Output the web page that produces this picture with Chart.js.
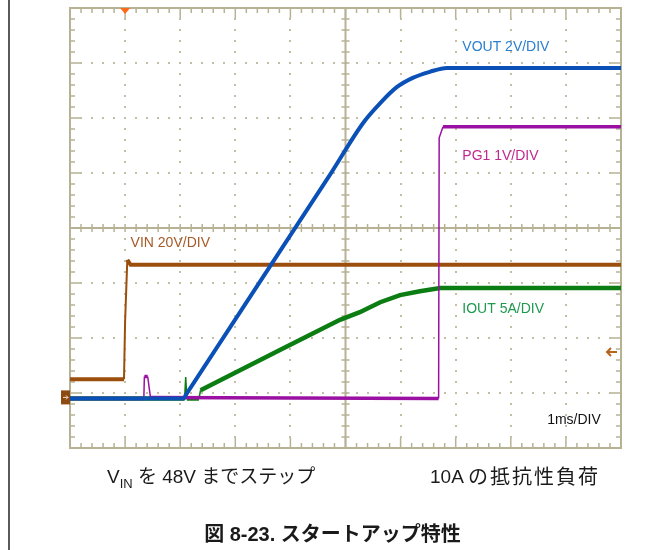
<!DOCTYPE html>
<html>
<head>
<meta charset="utf-8">
<title>スタートアップ特性</title>
<script src="https://cdn.jsdelivr.net/npm/chart.js@4.4.1/dist/chart.umd.min.js"></script>
<style>
  body { margin: 0; background: #fff; }
  #wrap { width: 665px; height: 550px; }
</style>
</head>
<body>
<div id="wrap"><canvas id="scope" width="665" height="550"></canvas></div>
<script>
// x = time in divisions (1ms/DIV), y = screen divisions from the bottom edge
const xDivs = 10;
const yDivs = 8;

const vinT = [0, 0.98, 1.0, 1.04, 1.1, 10];
const vinV = [1.25, 1.25, 2.3, 3.42, 3.33, 3.33];

const voutT = [0, 2.06, 2.1, 4.72, 5.32, 5.63, 5.93, 6.22, 6.53, 6.84, 10];
const voutV = [0.9, 0.9, 0.96, 4.97, 5.91, 6.27, 6.56, 6.73, 6.84, 6.91, 6.91];

const pgT = [0, 1.34, 1.35, 1.41, 1.46, 6.69, 6.7, 6.77, 10];
const pgV = [0.9, 0.9, 1.3, 1.3, 0.92, 0.9, 5.64, 5.84, 5.84];

const ioutT = [0, 2.08, 2.1, 2.12, 2.34, 2.37, 3.81, 4.9, 5.26, 5.63, 5.99, 6.35, 6.72, 10];
const ioutV = [0.9, 0.9, 1.29, 0.9, 0.9, 1.05, 1.78, 2.33, 2.47, 2.65, 2.78, 2.85, 2.91, 2.91];

const traceLabels = [
  { text: 'VOUT 2V/DIV', t: 7.12, v: 7.3, color: '#2a7fd0' },
  { text: 'PG1 1V/DIV', t: 7.12, v: 5.32, color: '#c0288f' },
  { text: 'VIN 20V/DIV', t: 1.1, v: 3.75, color: '#a65a28' },
  { text: 'IOUT 5A/DIV', t: 7.12, v: 2.54, color: '#1e9a50' },
  { text: '1ms/DIV', t: 8.66, v: 0.53, color: '#111111' }
];

const gridColor = '#b7b294';

function pts(t, v) {
  return t.map(function(x, i) { return { x: x, y: v[i] }; });
}

// steep edges of the traces are drawn thinner, like on the scope
function edgeWidth(thick, thin) {
  return function(ctx) {
    const dx = Math.abs(ctx.p1.x - ctx.p0.x);
    const dy = Math.abs(ctx.p1.y - ctx.p0.y);
    return (dx < 4 && dy > 8) ? thin : thick;
  };
}

const scopeGrid = {
  id: 'scopeGrid',
  beforeDatasetsDraw(chart) {
    const ctx = chart.ctx;
    const a = chart.chartArea;
    const x = chart.scales.x, y = chart.scales.y;
    ctx.save();
    ctx.fillStyle = '#5a5a5a';
    ctx.fillRect(8, 0, 2, chart.height);

    // dotted division lines
    ctx.fillStyle = '#c3bfa5';
    for (let i = 1; i < xDivs; i++) {
      if (i === xDivs / 2) continue;
      const px = Math.round(x.getPixelForValue(i));
      for (let k = 1; k < yDivs * 5; k++) {
        const py = Math.round(y.getPixelForValue(k / 5));
        ctx.fillRect(px - 1, py - 1, 2, 2);
      }
    }
    for (let j = 1; j < yDivs; j++) {
      if (j === yDivs / 2) continue;
      const py = Math.round(y.getPixelForValue(j));
      for (let k = 1; k < xDivs * 5; k++) {
        const px = Math.round(x.getPixelForValue(k / 5));
        ctx.fillRect(px - 1, py - 1, 2, 2);
      }
    }

    ctx.strokeStyle = gridColor;
    const xc = x.getPixelForValue(xDivs / 2);
    const yc = y.getPixelForValue(yDivs / 2);

    // ticks on border and centre cross
    ctx.lineWidth = 1.5;
    ctx.beginPath();
    for (let k = 1; k < xDivs * 5; k++) {
      const px = x.getPixelForValue(k / 5);
      const len = k % 5 === 0 ? 10 : 5;
      ctx.moveTo(px, a.top); ctx.lineTo(px, a.top + len);
      ctx.moveTo(px, a.bottom); ctx.lineTo(px, a.bottom - len);
      ctx.moveTo(px, yc - 4); ctx.lineTo(px, yc + 4);
    }
    for (let k = 1; k < yDivs * 5; k++) {
      const py = y.getPixelForValue(k / 5);
      const len = k % 5 === 0 ? 10 : 5;
      ctx.moveTo(a.left, py); ctx.lineTo(a.left + len, py);
      ctx.moveTo(a.right, py); ctx.lineTo(a.right - len, py);
      ctx.moveTo(xc - 4, py); ctx.lineTo(xc + 4, py);
    }
    ctx.stroke();

    ctx.lineWidth = 2;
    ctx.strokeRect(a.left, a.top, a.right - a.left, a.bottom - a.top);
    ctx.beginPath();
    ctx.moveTo(xc, a.top); ctx.lineTo(xc, a.bottom);
    ctx.moveTo(a.left, yc); ctx.lineTo(a.right, yc);
    ctx.stroke();
    ctx.restore();
  },
  afterDatasetsDraw(chart) {
    const ctx = chart.ctx;
    const a = chart.chartArea;
    const x = chart.scales.x, y = chart.scales.y;
    ctx.save();

    // trigger position marker
    const tx = x.getPixelForValue(1.0);
    ctx.fillStyle = '#ff6a1a';
    ctx.beginPath();
    ctx.moveTo(tx - 5, a.top); ctx.lineTo(tx + 5, a.top); ctx.lineTo(tx, a.top + 6);
    ctx.closePath();
    ctx.fill();

    // ground marker
    const gy = y.getPixelForValue(0.92);
    ctx.fillStyle = '#8a4a12';
    ctx.fillRect(a.left - 9, gy - 7, 9, 14);
    ctx.strokeStyle = '#f2dcc0';
    ctx.lineWidth = 1;
    ctx.beginPath();
    ctx.moveTo(a.left - 7, gy); ctx.lineTo(a.left - 2, gy);
    ctx.moveTo(a.left - 4, gy - 2); ctx.lineTo(a.left - 2, gy); ctx.lineTo(a.left - 4, gy + 2);
    ctx.stroke();

    // VIN trigger level arrow
    const ay = y.getPixelForValue(1.745);
    ctx.strokeStyle = '#b5651d';
    ctx.lineWidth = 2;
    ctx.beginPath();
    ctx.moveTo(a.right - 4, ay); ctx.lineTo(a.right - 14, ay);
    ctx.moveTo(a.right - 10, ay - 4); ctx.lineTo(a.right - 14, ay); ctx.lineTo(a.right - 10, ay + 4);
    ctx.stroke();

    // trace labels
    ctx.font = '14px "Liberation Sans", Arial, sans-serif';
    ctx.textBaseline = 'middle';
    traceLabels.forEach(function(l) {
      ctx.fillStyle = l.color;
      ctx.fillText(l.text, x.getPixelForValue(l.t), y.getPixelForValue(l.v) + 1);
    });

    // notes under the screen
    ctx.fillStyle = '#1a1a1a';
    ctx.textBaseline = 'alphabetic';
    const jp = '19px "Liberation Sans", "Noto Sans CJK JP", sans-serif';
    let cx = 107;
    ctx.font = jp;
    ctx.fillText('V', cx, 483);
    cx += ctx.measureText('V').width;
    ctx.font = '13px "Liberation Sans", sans-serif';
    ctx.fillText('IN', cx, 488);
    cx += ctx.measureText('IN').width;
    ctx.font = jp;
    ctx.fillText(' を 48V までステップ', cx, 483);
    ctx.fillText('10A', 430, 483);
    ctx.font = '20px "Noto Sans CJK JP", sans-serif';
    ctx.letterSpacing = '2px';
    ctx.fillText('の抵抗性負荷', 468, 484);
    ctx.letterSpacing = '0px';

    ctx.font = 'bold 20px "Liberation Sans", "Noto Sans CJK JP", sans-serif';
    ctx.textAlign = 'center';
    ctx.fillText('図 8-23. スタートアップ特性', 332.5, 541);
    ctx.restore();
  }
};

new Chart(document.getElementById('scope'), {
  type: 'line',
  data: {
    datasets: [{
      label: 'VOUT',
      data: pts(voutT, voutV),
      borderColor: '#0b50b6',
      borderWidth: 4,
      cubicInterpolationMode: 'monotone',
      segment: { borderWidth: edgeWidth(4, 1.5) }
    }, {
      label: 'PG1',
      data: pts(pgT, pgV),
      borderColor: '#9a10a2',
      borderWidth: 3.5,
      segment: { borderWidth: edgeWidth(3.5, 1.5) }
    }, {
      label: 'IOUT',
      data: pts(ioutT, ioutV),
      borderColor: '#0b7d12',
      borderWidth: 4.5,
      segment: { borderWidth: edgeWidth(4.5, 1.5) }
    }, {
      label: 'VIN',
      data: pts(vinT, vinV),
      borderColor: '#9c4e0c',
      borderWidth: 4,
      segment: { borderWidth: edgeWidth(4, 2) }
    }]
  },
  options: {
    responsive: false,
    animation: false,
    devicePixelRatio: 1,
    layout: { padding: { left: 70, top: 8, right: 44, bottom: 102 } },
    elements: {
      point: { radius: 0 },
      line: { tension: 0, fill: false }
    },
    scales: {
      x: { type: 'linear', min: 0, max: xDivs, display: false },
      y: { min: 0, max: yDivs, display: false }
    },
    plugins: {
      legend: { display: false },
      tooltip: { enabled: false }
    }
  },
  plugins: [scopeGrid]
});
</script>
</body>
</html>
